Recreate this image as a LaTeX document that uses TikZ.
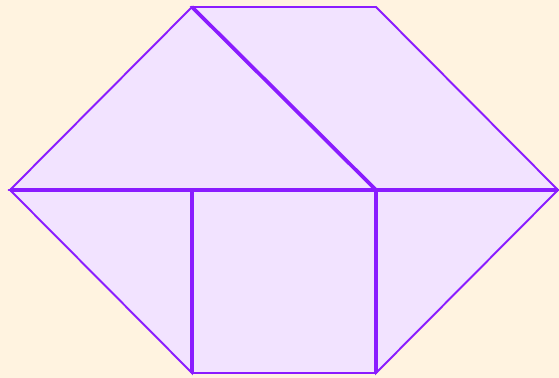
\documentclass[tikz,border=0pt]{standalone}
\usepackage{tikz}
\usetikzlibrary{backgrounds}
\definecolor{paper}{HTML}{FFF3E0}
\definecolor{piecefill}{HTML}{F2E3FF}
\definecolor{edge}{HTML}{8A1CFF}

\begin{document}
\begin{tikzpicture}[
  x=0.02cm, y=-0.02cm,
  piece/.style={fill=piecefill, draw=edge, line width=1.1pt, line join=miter},
  seam/.style={draw=edge, line width=2.1pt}]
  % frame of the picture
  \fill[paper] (0,0) rectangle (559,378);
  \useasboundingbox (0,0) rectangle (559,378);
  % corners of the hexagon
  \coordinate (tl) at (192,7);
  \coordinate (tr) at (376,7);
  \coordinate (r) at (558,190);
  \coordinate (br) at (376,373);
  \coordinate (bl) at (192,373);
  \coordinate (l) at (10,190);
  \coordinate (ml) at (192,190);
  \coordinate (mr) at (376,190);
  % pieces
  \draw[piece] (l) -- (tl) -- (mr) -- cycle;
  \draw[piece] (tl) -- (tr) -- (r) -- (mr) -- cycle;
  \draw[piece] (l) -- (ml) -- (bl) -- cycle;
  \draw[piece] (ml) -- (mr) -- (br) -- (bl) -- cycle;
  \draw[piece] (mr) -- (r) -- (br) -- cycle;
  % shared edges
  \draw[seam] (l) -- (r);
  \draw[seam] (tl) -- (mr);
  \draw[seam] (ml) -- (bl);
  \draw[seam] (mr) -- (br);
\end{tikzpicture}
\end{document}
